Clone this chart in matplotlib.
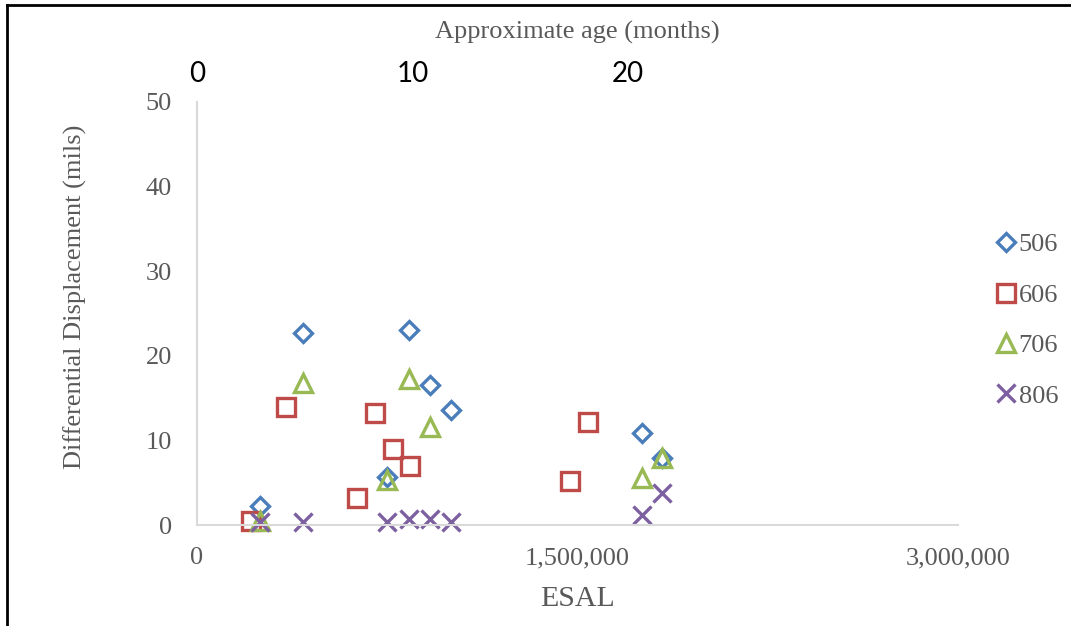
import matplotlib
matplotlib.use("Agg")
import matplotlib.pyplot as plt
from matplotlib.lines import Line2D

# ---- data ----
esal_506 = [249500, 417900, 750200, 834500, 917300, 1001300, 1752600, 1834200]
disp_506 = [2.3, 22.7, 5.7, 23.0, 16.5, 13.6, 10.9, 7.9]

esal_606 = [211700, 350800, 630700, 700500, 771400, 839600, 1471500, 1542500]
disp_606 = [0.5, 13.9, 3.2, 13.2, 9.0, 7.0, 5.2, 12.2]

esal_706 = [249500, 417900, 750200, 834500, 917300, 1752600, 1834200]
disp_706 = [0.5, 16.8, 5.3, 17.3, 11.6, 5.5, 7.9]

esal_806 = [249500, 417900, 750200, 834500, 917300, 1001300, 1752600, 1834200]
disp_806 = [0.4, 0.4, 0.4, 0.7, 0.7, 0.4, 1.2, 3.8]

series_names = ["506", "606", "706", "806"]
x_ticks = [0, 1500000, 3000000]
x_tick_labels = ["0", "1,500,000", "3,000,000"]
y_ticks = [0, 10, 20, 30, 40, 50]
month_ticks = [0, 10, 20]
ESAL_PER_MONTH = 85000

W, H = 1071, 626
fig = plt.figure(figsize=(W / 100, H / 100), dpi=100)
fig.patch.set_facecolor("white")

ax = fig.add_axes([197 / W, 1 - 525 / H, (958 - 197) / W, (525 - 102) / H])

gray = "#595959"
serif = "Liberation Serif"
colors = ["#4A7EBB", "#BE4B48", "#98B954", "#7D60A0"]
markers = ["D", "s", "^", "x"]
sizes = [9.5, 12.5, 12.5, 12.5]

data = [(esal_506, disp_506), (esal_606, disp_606), (esal_706, disp_706), (esal_806, disp_806)]
for (xs, ys), name, c, m, s in zip(data, series_names, colors, markers, sizes):
    ax.plot(xs, ys, linestyle="none", marker=m, markersize=s,
            markerfacecolor="none", markeredgecolor=c, markeredgewidth=2.4,
            label=name, clip_on=False)

ax.set_xlim(0, 3000000)
ax.set_ylim(0, 50)
ax.set_xticks(x_ticks)
ax.set_xticklabels(x_tick_labels)
ax.set_yticks(y_ticks)

for sp in ["top", "right"]:
    ax.spines[sp].set_visible(False)
for sp in ["left", "bottom"]:
    ax.spines[sp].set_color("#D9D9D9")
    ax.spines[sp].set_linewidth(1.5)

ax.tick_params(axis="both", length=0, colors=gray, labelsize=19)
ax.tick_params(axis="x", pad=16)
ax.tick_params(axis="y", pad=18)
for lbl in ax.get_xticklabels() + ax.get_yticklabels():
    lbl.set_family(serif)

ax.set_xlabel("ESAL", family=serif, fontsize=21.5, color=gray, labelpad=12)
ax.set_ylabel("Differential Displacement (mils)", family=serif, fontsize=19,
              color=gray)
ax.yaxis.set_label_coords(-0.145, 0.54)

sec = ax.secondary_xaxis("top", functions=(lambda e: e / ESAL_PER_MONTH,
                                            lambda mo: mo * ESAL_PER_MONTH))
sec.set_xticks(month_ticks)
sec.tick_params(axis="x", length=0, labelsize=20, colors="black", pad=11)
for lbl in sec.get_xticklabels():
    lbl.set_family("Lato")
sec.spines["top"].set_visible(False)
sec.set_xlabel("Approximate age (months)", family=serif, fontsize=19,
               color=gray, labelpad=16)

leg = ax.legend(loc="upper left", bbox_to_anchor=(995 / W, 1 - 233 / H),
                bbox_transform=fig.transFigure, frameon=False,
                prop={"family": serif, "size": 19}, labelcolor=gray,
                handlelength=0.8, handletextpad=0.1, labelspacing=1.02,
                borderpad=0, borderaxespad=0)

# frame lines (left and top border)
fig.add_artist(Line2D([7 / W, 7 / W], [0, 1 - 5 / H], color="black", lw=2,
                      transform=fig.transFigure))
fig.add_artist(Line2D([7 / W, 1], [1 - 5 / H, 1 - 5 / H], color="black", lw=2,
                      transform=fig.transFigure))

fig.savefig("out.png", dpi=100)
